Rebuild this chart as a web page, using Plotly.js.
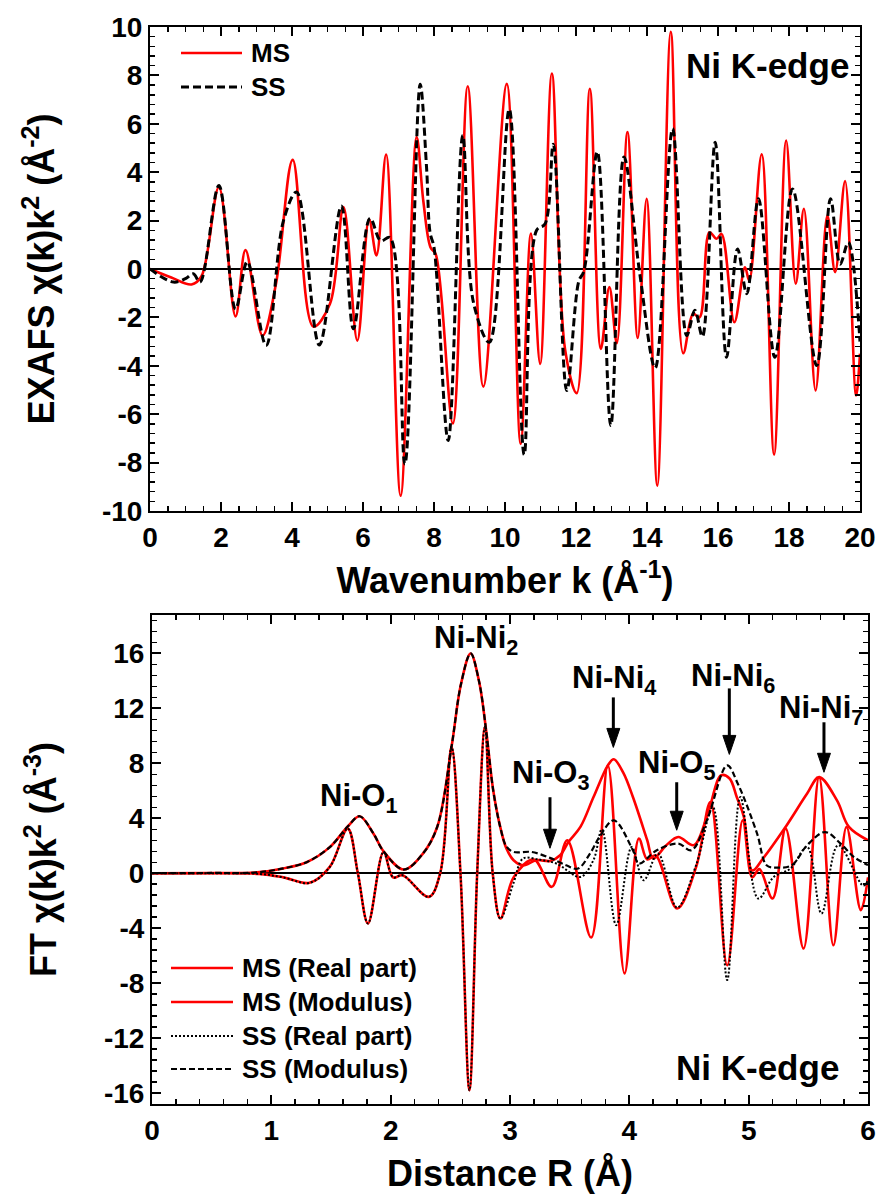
<!DOCTYPE html>
<html><head><meta charset="utf-8">
<script src="https://cdn.plot.ly/plotly-3.0.1.min.js"></script>
<style>html,body{margin:0;padding:0;background:#fff}#chart{width:878px;height:1195px}</style>
</head><body><div id="chart"></div>
<script>
// ---------- Top panel: EXAFS chi(k)k^2 ----------
const kMS = [0, 0.6, 1.17, 1.45, 1.94, 2.41, 2.69, 3.17, 3.55, 4.02, 4.6, 5.07, 5.45, 5.84, 6.17, 6.38, 6.65, 7.06, 7.51, 7.7, 7.9, 8.05, 8.53, 8.95, 9.39, 10.05, 10.44, 10.73, 10.99, 11.32, 11.69, 12.02, 12.39, 12.7, 12.94, 13.15, 13.45, 13.74, 13.99, 14.29, 14.67, 15.02, 15.3, 15.48, 15.76, 15.96, 16.1, 16.46, 16.76, 16.88, 17.23, 17.58, 17.92, 18.19, 18.42, 18.75, 19.08, 19.3, 19.58, 19.89, 20];
const chiMS = [0, -0.35, -0.64, -0.3, 3.38, -1.96, 0.78, -2.75, -0.6, 4.51, -2.38, -1.44, 2.56, -2.96, 2.05, 0.56, 4.73, -9.37, 5.45, 2.8, 0.9, 0.6, -6.38, 7.55, -4.86, 7.65, -7.23, 1.46, -3.92, 8.08, -3.3, -5.13, 7.45, -3.3, -0.75, -3.07, 5.66, -2.85, 2.9, -8.95, 9.8, -3.48, -1.85, -2.0, 1.52, 1.25, 1.45, -2.2, 0.07, -0.48, 4.74, -7.67, 5.31, -0.61, 2.49, -5.02, 2.21, -0.13, 3.63, -5.23, -3.5];
const kSS = [0, 0.66, 1.0, 1.22, 1.41, 1.94, 2.41, 2.74, 3.27, 3.76, 4.13, 4.77, 5.39, 5.73, 6.2, 6.5, 6.76, 7.18, 7.61, 7.79, 7.89, 8.0, 8.4, 8.81, 9.11, 9.56, 10.12, 10.54, 10.89, 11.13, 11.36, 11.74, 12.08, 12.22, 12.6, 12.98, 13.35, 13.8, 14.23, 14.72, 15.12, 15.35, 15.56, 15.92, 16.24, 16.55, 16.81, 17.14, 17.6, 18.1, 18.78, 19.17, 19.44, 19.67, 20];
const chiSS = [0, -0.54, -0.4, -0.2, -0.54, 3.45, -1.65, 0.3, -3.16, 2.0, 3.18, -3.14, 2.6, -2.47, 2.1, 1.16, 1.3, -8.06, 7.63, 4.2, 1.5, 0.9, -7.09, 5.52, -1.37, -3.03, 6.6, -7.67, 1.6, 1.87, 5.15, -5.02, -0.5, -0.1, 4.85, -6.47, 4.63, -0.23, -4.09, 5.8, -2.75, -1.7, -2.79, 5.24, -3.65, 0.83, -1.02, 2.9, -3.65, 3.31, -3.99, 2.9, 0.2, 1.1, -3.0];

// ---------- Bottom panel: FT chi(k)k^2 ----------
const rMSreal = [0, 0.5, 0.9, 1.1, 1.32, 1.49, 1.64, 1.725, 1.81, 1.94, 2.02, 2.1, 2.32, 2.415, 2.51, 2.585, 2.66, 2.725, 2.79, 2.855, 2.92, 3.03, 3.2, 3.35, 3.48, 3.68, 3.82, 3.96, 4.08, 4.15, 4.22, 4.40, 4.56, 4.68, 4.82, 4.95, 5.03, 5.09, 5.20, 5.31, 5.46, 5.59, 5.71, 5.82, 5.94, 6.0];
const ftMSreal = [0, 0, -0.05, -0.3, -0.7, 0.46, 3.25, 0, -3.66, 1.55, -0.3, -0.15, -1.72, 0, 9.2, 0, -15.8, 0, 10.64, 0, -3.3, -0.3, 1.0, -0.99, 2.4, -4.68, 7.85, -7.3, 2.52, 1.0, 1.3, -2.57, 0.46, 5.19, -6.7, 3.85, -0.3, 0.3, -1.84, 3.25, -5.48, 7.0, -5.24, 3.37, -2.69, -0.3];
const rMSmod = [0, 0.5, 0.86, 1.1, 1.3, 1.49, 1.64, 1.74, 1.855, 1.94, 2.11, 2.27, 2.39, 2.51, 2.59, 2.67, 2.74, 2.80, 2.86, 2.92, 2.97, 3.03, 3.11, 3.22, 3.34, 3.42, 3.49, 3.59, 3.70, 3.82, 3.87, 3.95, 4.03, 4.15, 4.20, 4.31, 4.41, 4.54, 4.65, 4.77, 4.84, 4.90, 4.96, 5.03, 5.12, 5.30, 5.49, 5.59, 5.74, 5.84, 6.0];
const ftMSmod = [0, 0.02, 0.05, 0.35, 0.82, 1.9, 3.4, 4.15, 2.9, 1.6, 0.27, 1.43, 3.37, 9.2, 13.8, 16.0, 14.0, 10.4, 6.0, 3.3, 1.8, 0.95, 0.58, 0.95, 0.9, 1.31, 2.28, 3.37, 5.55, 7.85, 8.3, 7.3, 5.55, 2.4, 1.07, 2.04, 2.64, 2.04, 4.1, 7.13, 6.9, 5.55, 4.1, 0.2, 1.07, 3.25, 5.8, 7.0, 5.3, 3.37, 2.4];
const rSSreal = [0, 0.5, 0.9, 1.1, 1.32, 1.49, 1.64, 1.725, 1.81, 1.94, 2.02, 2.1, 2.32, 2.415, 2.51, 2.585, 2.66, 2.725, 2.79, 2.855, 2.92, 3.03, 3.11, 3.24, 3.39, 3.59, 3.70, 3.77, 3.89, 4.02, 4.12, 4.24, 4.40, 4.56, 4.70, 4.82, 4.93, 5.08, 5.21, 5.35, 5.49, 5.61, 5.75, 5.96, 6.0];
const ftSSreal = [0, 0, -0.05, -0.3, -0.7, 0.46, 3.25, 0, -3.66, 1.55, -0.3, -0.15, -1.72, 0, 9.2, 0, -15.8, 0, 10.64, 0, -3.3, -0.7, 1.07, 1.0, 0.7, -0.27, 0.97, 3.2, -3.78, 1.91, -0.51, 1.43, -2.5, 0.6, 4.82, -7.78, 5.55, -1.84, -0.27, 0.34, 1.91, -2.93, 2.04, -0.9, -0.5];
const rSSmod = [0, 0.5, 0.86, 1.1, 1.3, 1.49, 1.64, 1.74, 1.855, 1.94, 2.11, 2.27, 2.39, 2.51, 2.59, 2.67, 2.74, 2.80, 2.86, 2.92, 2.97, 3.03, 3.18, 3.34, 3.47, 3.57, 3.67, 3.75, 3.87, 4.03, 4.08, 4.23, 4.41, 4.52, 4.65, 4.82, 4.91, 5.07, 5.15, 5.23, 5.36, 5.49, 5.64, 5.77, 5.88, 6.0];
const ftSSmod = [0, 0.02, 0.05, 0.35, 0.82, 1.9, 3.4, 4.15, 2.9, 1.6, 0.27, 1.43, 3.37, 9.2, 13.8, 16.0, 14.0, 10.4, 6.0, 3.3, 1.95, 1.55, 1.55, 1.1, 0.58, 0.34, 1.43, 2.64, 3.85, 1.67, 0.7, 1.67, 2.16, 1.67, 3.85, 7.85, 6.5, 2.9, 0.58, 0.41, 0.58, 2.04, 3.0, 2.16, 1.19, 0.6];

// ---------- Tick labels ----------
const topXTicks = [0, 2, 4, 6, 8, 10, 12, 14, 16, 18, 20];
const topXTickText = ['0', '2', '4', '6', '8', '10', '12', '14', '16', '18', '20'];
const topYTicks = [-10, -8, -6, -4, -2, 0, 2, 4, 6, 8, 10];
const topYTickText = ['-10', '-8', '-6', '-4', '-2', '0', '2', '4', '6', '8', '10'];
const botXTicks = [0, 1, 2, 3, 4, 5, 6];
const botXTickText = ['0', '1', '2', '3', '4', '5', '6'];
const botYTicks = [-16, -12, -8, -4, 0, 4, 8, 12, 16];
const botYTickText = ['-16', '-12', '-8', '-4', '0', '4', '8', '12', '16'];

// ---------- Text labels ----------
const peakLabels = ['Ni-O<sub>1</sub>', 'Ni-Ni<sub>2</sub>', 'Ni-O<sub>3</sub>', 'Ni-Ni<sub>4</sub>', 'Ni-O<sub>5</sub>', 'Ni-Ni<sub>6</sub>', 'Ni-Ni<sub>7</sub>'];
const topLegend = ['MS', 'SS'];
const botLegend = ['MS (Real part)', 'MS (Modulus)', 'SS (Real part)', 'SS (Modulus)'];

const W = 878, H = 1195;
const px = v => v / W, py = v => 1 - v / H;
const FONT = 'Liberation Sans, Arial, sans-serif';
const RED = '#ff0000';

const traces = [
  {x: kMS, y: chiMS, xaxis: 'x', yaxis: 'y', type: 'scatter', mode: 'lines', name: topLegend[0],
   line: {color: RED, width: 2.6, shape: 'spline', smoothing: 1}},
  {x: kSS, y: chiSS, xaxis: 'x', yaxis: 'y', type: 'scatter', mode: 'lines', name: topLegend[1],
   line: {color: '#000', width: 3, dash: '8px,4px', shape: 'spline', smoothing: 1}},
  {x: rMSreal, y: ftMSreal, xaxis: 'x2', yaxis: 'y2', type: 'scatter', mode: 'lines', name: botLegend[0],
   line: {color: RED, width: 2.6, shape: 'spline', smoothing: 1}},
  {x: rMSmod, y: ftMSmod, xaxis: 'x2', yaxis: 'y2', type: 'scatter', mode: 'lines', name: botLegend[1],
   line: {color: RED, width: 2.6, shape: 'spline', smoothing: 1}},
  {x: rSSreal, y: ftSSreal, xaxis: 'x2', yaxis: 'y2', type: 'scatter', mode: 'lines', name: botLegend[2],
   line: {color: '#000', width: 2, dash: '2px,2px', shape: 'spline', smoothing: 1}},
  {x: rSSmod, y: ftSSmod, xaxis: 'x2', yaxis: 'y2', type: 'scatter', mode: 'lines', name: botLegend[3],
   line: {color: '#000', width: 2.2, dash: '6px,3px', shape: 'spline', smoothing: 1}}
];

const tickFont = {family: FONT, size: 28, color: '#000', weight: 'bold'};
const titleFont = {family: FONT, size: 36, color: '#000', weight: 'bold'};
function axisBase() {
  return {showgrid: false, zeroline: false, showline: true, linecolor: '#000', linewidth: 2,
    mirror: 'allticks', ticks: 'inside', ticklen: 9, tickwidth: 2, tickcolor: '#000',
    tickfont: tickFont, tickmode: 'array', fixedrange: true};
}

const layout = {
  width: W, height: H, margin: {l: 0, r: 0, t: 0, b: 0},
  paper_bgcolor: '#fff', plot_bgcolor: '#fff', showlegend: false,
  xaxis: Object.assign(axisBase(), {domain: [px(150), px(860)], range: [0, 20], anchor: 'y',
    tickvals: topXTicks, ticktext: topXTickText,
    minor: {ticks: 'inside', ticklen: 5, tickwidth: 1.5, tickcolor: '#000', dtick: 0.5, tick0: 0},
    title: {text: 'Wavenumber k (Å<sup>-1</sup>)', font: titleFont, standoff: 16}}),
  yaxis: Object.assign(axisBase(), {domain: [py(511), py(27)], range: [-10, 10], anchor: 'x',
    tickvals: topYTicks, ticktext: topYTickText,
    zeroline: true, zerolinecolor: '#000', zerolinewidth: 1.5,
    minor: {ticks: 'inside', ticklen: 5, tickwidth: 1.5, tickcolor: '#000', dtick: 0.4, tick0: 0},
    title: {text: 'EXAFS χ(k)k<sup>2</sup> (Å<sup>-2</sup>)', font: titleFont, standoff: 36}}),
  xaxis2: Object.assign(axisBase(), {domain: [px(152), px(868)], range: [0, 6], anchor: 'y2',
    tickvals: botXTicks, ticktext: botXTickText,
    minor: {ticks: 'inside', ticklen: 5, tickwidth: 1.5, tickcolor: '#000', dtick: 0.2, tick0: 0},
    title: {text: 'Distance R (Å)', font: titleFont, standoff: 16}}),
  yaxis2: Object.assign(axisBase(), {domain: [py(1104), py(615)], range: [-16.8, 18.8], anchor: 'x2',
    tickvals: botYTicks, ticktext: botYTickText,
    zeroline: true, zerolinecolor: '#000', zerolinewidth: 1.5,
    minor: {ticks: 'inside', ticklen: 5, tickwidth: 1.5, tickcolor: '#000', dtick: 0.8, tick0: 0},
    title: {text: 'FT χ(k)k<sup>2</sup> (Å<sup>-3</sup>)', font: titleFont, standoff: 36}}),
  shapes: [],
  annotations: []
};

// Legend samples (drawn manually to match the original placement)
const topLegY = [53, 87];
const topLegStyle = [{color: RED, width: 2.6, dash: 'solid'}, {color: '#000', width: 3, dash: '8px,4px'}];
topLegend.forEach((t, i) => {
  layout.shapes.push({type: 'line', xref: 'paper', yref: 'paper', x0: px(181), x1: px(242),
    y0: py(topLegY[i]), y1: py(topLegY[i]), line: topLegStyle[i]});
  layout.annotations.push({xref: 'paper', yref: 'paper', x: px(249), y: py(topLegY[i]), text: t,
    showarrow: false, xanchor: 'left', yanchor: 'middle',
    font: {family: FONT, size: 26, color: '#000', weight: 'bold'}});
});
const botLegY = [968, 1002, 1036, 1069];
const botLegStyle = [{color: RED, width: 2.6, dash: 'solid'}, {color: RED, width: 2.6, dash: 'solid'},
  {color: '#000', width: 2, dash: '2px,2px'}, {color: '#000', width: 2.2, dash: '6px,3px'}];
botLegend.forEach((t, i) => {
  layout.shapes.push({type: 'line', xref: 'paper', yref: 'paper', x0: px(171), x1: px(233),
    y0: py(botLegY[i]), y1: py(botLegY[i]), line: botLegStyle[i]});
  layout.annotations.push({xref: 'paper', yref: 'paper', x: px(240), y: py(botLegY[i]), text: t,
    showarrow: false, xanchor: 'left', yanchor: 'middle',
    font: {family: FONT, size: 26, color: '#000', weight: 'bold'}});
});

// "Ni K-edge" labels
layout.annotations.push({xref: 'paper', yref: 'paper', x: px(767), y: py(66), text: 'Ni K-edge',
  showarrow: false, xanchor: 'center', yanchor: 'middle', font: {family: FONT, size: 35, color: '#000', weight: 'bold'}});
layout.annotations.push({xref: 'paper', yref: 'paper', x: px(757), y: py(1067), text: 'Ni K-edge',
  showarrow: false, xanchor: 'center', yanchor: 'middle', font: {family: FONT, size: 35, color: '#000', weight: 'bold'}});

// Peak labels (placed in data coordinates of the lower panel)
const labelPos = [[1.735, 5.45], [2.711, 16.95], [3.344, 7.13], [3.872, 14.04], [4.40, 7.85], [4.869, 14.25], [5.606, 11.85]];
peakLabels.forEach((t, i) => {
  layout.annotations.push({xref: 'x2', yref: 'y2', x: labelPos[i][0], y: labelPos[i][1], text: t,
    showarrow: false, xanchor: 'center', yanchor: 'middle',
    font: {family: FONT, size: 31, color: '#000', weight: 'bold'}});
});
// Arrows (tip position in data coords, shaft length in px) drawn as shapes
const arrowSpec = [[3.335, 1.82, 51], [3.866, 9.16, 50], [4.397, 3.13, 48], [4.838, 8.65, 66], [5.631, 7.35, 50]];
const pxPerR = 716 / 6, pxPerY = 489 / 35.6;
const headLen = 19 / pxPerY, headHalf = 6.5 / pxPerR;
arrowSpec.forEach(([r, tip, len]) => {
  layout.shapes.push({type: 'line', xref: 'x2', yref: 'y2', x0: r, x1: r,
    y0: tip + len / pxPerY, y1: tip + headLen * 0.8, line: {color: '#000', width: 3}});
  layout.shapes.push({type: 'path', xref: 'x2', yref: 'y2',
    path: `M${r - headHalf},${tip + headLen} L${r + headHalf},${tip + headLen} L${r},${tip} Z`,
    fillcolor: '#000', line: {color: '#000', width: 1}});
});

Plotly.newPlot('chart', traces, layout, {displayModeBar: false, staticPlot: true});
</script></body></html>
